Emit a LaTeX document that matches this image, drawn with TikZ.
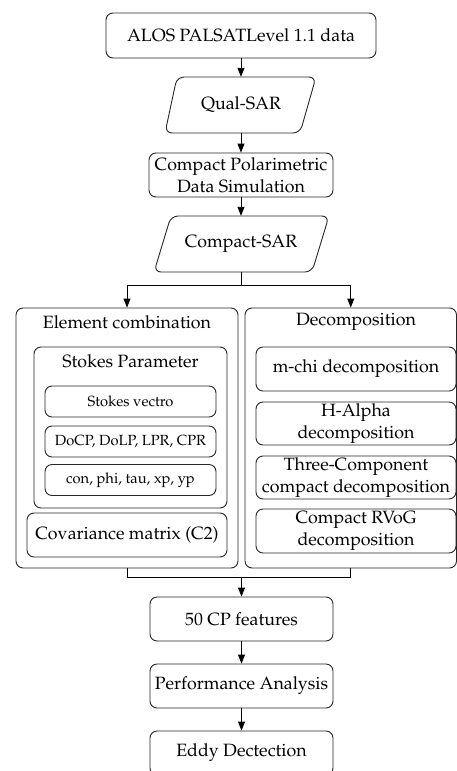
\documentclass[tikz,border=0pt]{standalone}
\usepackage[T1]{fontenc}
\usepackage{mathpazo}
\usetikzlibrary{arrows.meta}
\begin{document}
\begin{tikzpicture}[x=1pt,y=-1pt,
  box/.style={draw=black!85, line width=0.9pt, rounded corners=7pt, align=center, inner sep=0pt},
  txt/.style={font=\fontsize{17.8}{22}\selectfont, align=center},
  small/.style={font=\fontsize{14.7}{17}\selectfont, align=center},
  arr/.style={line width=0.9pt, -{Triangle[length=9pt,width=7pt]}},
  ln/.style={line width=0.9pt}]
\useasboundingbox (0,0) rectangle (457,771);
\begin{scope}
\clip (0,0) rectangle (457,771);
% top
\node[box,txt,minimum width=270pt,minimum height=45pt] (alos) at (241,35.5) {ALOS PALSATLevel 1.1 data};
% Qual-SAR
\draw[box] (177,77) -- (316,77) -- (300,133) -- (165,133) -- cycle;
\node[txt,minimum width=120pt,minimum height=56pt,inner sep=0pt] (qual) at (241,105) {Qual-SAR};
% CP simulation
\node[box,txt,minimum width=184pt,minimum height=44pt] (cpds) at (241,175) {Compact Polarimetric\\Data Simulation};
% Compact-SAR
\draw[box] (171,216) -- (329,216) -- (312,272) -- (154,272) -- cycle;
\node[txt,minimum width=120pt,minimum height=56pt,inner sep=0pt] (csar) at (241,244) {Compact-SAR};
% big boxes
\node[box,minimum width=222pt,minimum height=260pt] (left) at (127,438) {};
\node[box,minimum width=211.5pt,minimum height=260pt] (right) at (350.75,438) {};
\node[txt] (elc) at (127,322) {Element combination};
\node[txt] (dec) at (356,322) {Decomposition};
% Stokes parameter group
\node[box,minimum width=193pt,minimum height=161pt] (stk) at (130.5,427.5) {};
\node[txt] (stkt) at (130.5,361) {Stokes Parameter};
\node[box,small,minimum width=171pt,minimum height=31pt] (sv) at (130.5,401.5) {Stokes vectro};
\node[box,small,minimum width=171pt,minimum height=31pt] (docp) at (130.5,441.5) {DoCP, DoLP, LPR, CPR};
\node[box,small,minimum width=171pt,minimum height=31pt] (con) at (130.5,480) {con, phi, tau, xp, yp};
\node[box,txt,minimum width=200pt,minimum height=44pt] (cov) at (127,535) {Covariance matrix (C2)};
% decompositions
\node[box,txt,minimum width=200pt,minimum height=44pt] (mchi) at (356,369) {m-chi decomposition};
\node[box,txt,minimum width=200pt,minimum height=43pt] (ha) at (356,423.5) {H-Alpha\\decomposition};
\node[box,txt,minimum width=200pt,minimum height=43pt] (three) at (356,477.5) {Three-Component\\compact decomposition};
\node[box,txt,minimum width=200pt,minimum height=44pt] (rvog) at (356,531) {Compact RVoG\\decomposition};
% lower chain
\node[box,txt,minimum width=183pt,minimum height=44pt] (cp50) at (241.5,619) {50 CP features};
\node[box,txt,minimum width=183pt,minimum height=44pt] (perf) at (241.5,686) {Performance Analysis};
\node[box,txt,minimum width=183pt,minimum height=44pt] (eddy) at (241.5,753) {Eddy Dectection};
% connectors
\draw[arr] (alos) -- (qual);
\draw[arr] (qual) -- (cpds);
\draw[arr] (cpds) -- (csar);
\coordinate (br) at (241,285);
\draw[ln] (csar.south) -- (br);
\draw[arr] (br) -| (left.north);
\draw[arr] (br) -| (right.north);
\coordinate (mg) at (241.5,577);
\draw[ln] (left.south) |- (mg);
\draw[ln] (right.south) |- (mg);
\draw[arr] (mg) -- (cp50);
\draw[arr] (cp50) -- (perf);
\draw[arr] (perf) -- (eddy);
\end{scope}
\end{tikzpicture}
\end{document}
